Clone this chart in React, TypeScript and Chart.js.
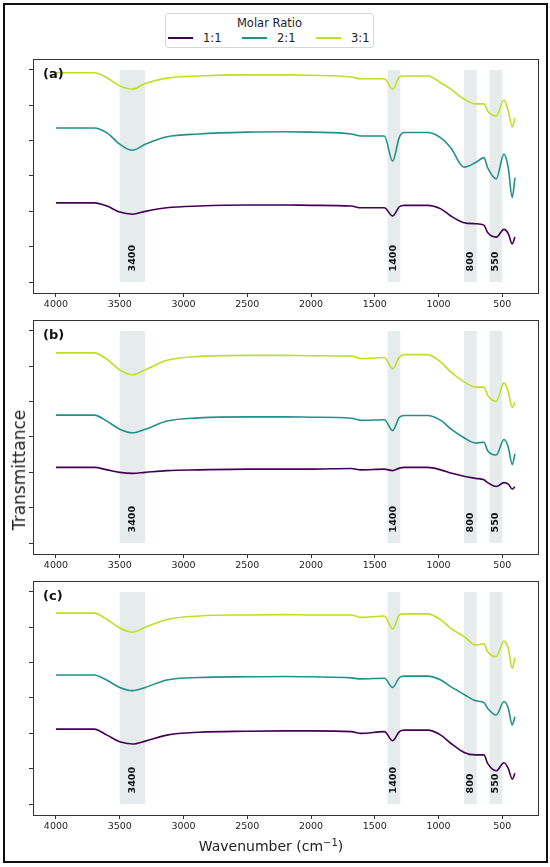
import React, { useEffect, useRef } from 'react';
import { Chart, registerables } from 'chart.js';

Chart.register(...registerables);

// wavenumbers (cm-1) shared by every spectrum
const WAVENUMBERS = [
  4000, 3700, 3600, 3500, 3400, 3300, 3130, 2880, 2500, 2200, 2000, 1685, 1607, 1425, 1360,
  1307, 1268, 1086, 982, 904, 800, 709, 644, 615, 547, 487, 453, 422, 401,
];

const SERIES_NAMES = ['1:1', '2:1', '3:1'];
const SERIES_COLORS = ['#440154', '#21918c', '#bddf26'];
const PANEL_LETTERS = ['(a)', '(b)', '(c)'];

// panel (a)
const A_1_1 = [2.24, 2.24, 2.15, 1.98, 1.92, 2.0, 2.1, 2.15, 2.18, 2.18, 2.17, 2.15, 2.1, 2.1, 1.87, 2.13, 2.17, 2.17, 2.07, 1.87, 1.68, 1.65, 1.61, 1.4, 1.27, 1.49, 1.37, 1.08, 1.27];
const A_2_1 = [4.36, 4.36, 4.22, 3.9, 3.73, 3.9, 4.11, 4.19, 4.24, 4.25, 4.24, 4.19, 4.13, 4.13, 3.42, 4.1, 4.23, 4.23, 4.08, 3.8, 3.25, 3.38, 3.52, 3.24, 2.92, 3.62, 3.23, 2.39, 2.95];
const A_3_1 = [5.92, 5.92, 5.78, 5.55, 5.46, 5.62, 5.77, 5.83, 5.86, 5.86, 5.85, 5.8, 5.75, 5.75, 5.46, 5.8, 5.83, 5.83, 5.64, 5.46, 5.18, 5.04, 5.04, 4.84, 4.7, 5.15, 4.84, 4.39, 4.64];

// panel (b)
const B_1_1 = [2.14, 2.14, 2.07, 2.0, 1.97, 2.0, 2.05, 2.07, 2.09, 2.09, 2.09, 2.11, 2.07, 2.09, 2.05, 2.12, 2.14, 2.14, 2.07, 1.98, 1.89, 1.83, 1.79, 1.71, 1.6, 1.71, 1.67, 1.53, 1.59];
const B_2_1 = [3.62, 3.62, 3.45, 3.22, 3.12, 3.22, 3.45, 3.54, 3.57, 3.57, 3.56, 3.53, 3.47, 3.49, 3.18, 3.56, 3.61, 3.61, 3.47, 3.23, 2.98, 2.83, 2.85, 2.61, 2.49, 2.93, 2.71, 2.22, 2.52];
const B_3_1 = [5.38, 5.38, 5.2, 4.9, 4.76, 4.9, 5.17, 5.28, 5.31, 5.31, 5.3, 5.29, 5.22, 5.25, 4.93, 5.26, 5.33, 5.33, 5.12, 4.84, 4.56, 4.41, 4.41, 4.18, 4.01, 4.53, 4.27, 3.84, 3.99];

// panel (c)
const C_1_1 = [2.12, 2.12, 1.95, 1.76, 1.7, 1.78, 1.95, 2.03, 2.06, 2.07, 2.07, 2.05, 2.0, 2.05, 1.79, 2.05, 2.09, 2.09, 1.95, 1.72, 1.46, 1.39, 1.39, 1.15, 0.94, 1.17, 1.01, 0.7, 0.87];
const C_2_1 = [3.65, 3.65, 3.5, 3.3, 3.21, 3.3, 3.51, 3.58, 3.6, 3.61, 3.6, 3.57, 3.54, 3.56, 3.3, 3.58, 3.62, 3.62, 3.51, 3.32, 3.1, 2.92, 2.87, 2.71, 2.52, 2.9, 2.71, 2.24, 2.47];
const C_3_1 = [5.4, 5.4, 5.22, 4.98, 4.86, 5.0, 5.22, 5.32, 5.35, 5.36, 5.35, 5.35, 5.28, 5.32, 4.95, 5.35, 5.38, 5.38, 5.21, 4.97, 4.74, 4.5, 4.53, 4.31, 4.17, 4.61, 4.4, 3.84, 4.15];

const PANELS = [
  [A_1_1, A_2_1, A_3_1],
  [B_1_1, B_2_1, B_3_1],
  [C_1_1, C_2_1, C_3_1],
];

const X_TICKS = [4000, 3500, 3000, 2500, 2000, 1500, 1000, 500];
const Y_TICKS = [0, 1, 2, 3, 4, 5, 6];

// shaded absorption bands
const BAND_FROM = [3500, 1400, 800, 600];
const BAND_TO = [3300, 1300, 700, 500];
const BAND_LABELS = ['3400', '1400', '800', '550'];

const FONT = '"DejaVu Sans", Verdana, sans-serif';
const PANEL_TOPS = [59, 320, 581];
const AREA_H = 234;
const PAD_TOP = 10;
const AXIS_H = 26;
const AREA_LEFT = 33;
const AREA_RIGHT = 538;
const LABEL_Y = 0.3;

function decor(letter: string) {
  return {
    id: 'decor',
    beforeDatasetsDraw(chart: any) {
      const { ctx, scales } = chart;
      const x = scales.x;
      const y = scales.y;
      const yTop = y.getPixelForValue(Y_TICKS[Y_TICKS.length - 1]);
      const yBot = y.getPixelForValue(Y_TICKS[0]);
      ctx.save();
      ctx.fillStyle = '#e6ecec';
      BAND_FROM.forEach((from, i) => {
        const x1 = x.getPixelForValue(from);
        const x2 = x.getPixelForValue(BAND_TO[i]);
        ctx.fillRect(Math.min(x1, x2), yTop, Math.abs(x2 - x1), yBot - yTop);
      });
      ctx.fillStyle = '#111';
      ctx.font = `bold 9.5px ${FONT}`;
      ctx.textAlign = 'left';
      ctx.textBaseline = 'middle';
      BAND_FROM.forEach((from, i) => {
        const cx = x.getPixelForValue((from + BAND_TO[i]) / 2);
        const cy = y.getPixelForValue(LABEL_Y);
        ctx.save();
        ctx.translate(cx, cy);
        ctx.rotate(-Math.PI / 2);
        ctx.fillText(BAND_LABELS[i], 0, 0);
        ctx.restore();
      });
      ctx.restore();
    },
    afterDraw(chart: any) {
      const { ctx, chartArea } = chart;
      ctx.save();
      ctx.strokeStyle = '#333';
      ctx.lineWidth = 1;
      ctx.strokeRect(
        Math.round(chartArea.left) + 0.5,
        Math.round(chartArea.top) + 0.5,
        Math.round(chartArea.right - chartArea.left),
        Math.round(chartArea.bottom - chartArea.top),
      );
      ctx.fillStyle = '#111';
      ctx.font = `bold 13px ${FONT}`;
      ctx.textAlign = 'left';
      ctx.textBaseline = 'middle';
      ctx.fillText(letter, chartArea.left + 10, chartArea.top + 16);
      ctx.restore();
    },
  };
}

function Panel({ index }: { index: number }) {
  const canvasRef = useRef<HTMLCanvasElement>(null);

  useEffect(() => {
    const ctx = canvasRef.current?.getContext('2d');
    if (!ctx) return;

    const chart = new Chart(ctx, {
      type: 'line',
      data: {
        datasets: PANELS[index].map((values, s) => ({
          label: SERIES_NAMES[s],
          data: WAVENUMBERS.map((w, i) => ({ x: w, y: values[i] })),
          borderColor: SERIES_COLORS[s],
          borderWidth: 1.6,
          pointRadius: 0,
          fill: false,
          cubicInterpolationMode: 'monotone' as const,
        })),
      },
      options: {
        animation: false,
        responsive: false,
        events: [],
        layout: { padding: { top: PAD_TOP, right: 550 - AREA_RIGHT, left: 0, bottom: 0 } },
        plugins: { legend: { display: false }, tooltip: { enabled: false } },
        scales: {
          x: {
            type: 'linear',
            reverse: true,
            min: 220,
            max: 4180,
            afterBuildTicks: (s: any) => {
              s.ticks = X_TICKS.map((v) => ({ value: v }));
            },
            afterFit: (s: any) => {
              s.height = AXIS_H;
            },
            ticks: {
              font: { family: FONT, size: 9.5 },
              color: '#222',
              padding: 2,
              maxRotation: 0,
              autoSkip: false,
              callback: (v: any) => String(v),
            },
            grid: { drawOnChartArea: false, drawTicks: true, tickLength: 4, color: '#333' },
            border: { display: false },
          },
          y: {
            type: 'linear',
            min: -0.31,
            max: 6.31,
            afterBuildTicks: (s: any) => {
              s.ticks = Y_TICKS.map((v) => ({ value: v }));
            },
            afterFit: (s: any) => {
              s.width = AREA_LEFT;
            },
            ticks: { display: false },
            grid: { drawOnChartArea: false, drawTicks: true, tickLength: 4, color: '#333' },
            border: { display: false },
          },
        },
      },
      plugins: [decor(PANEL_LETTERS[index])],
    });

    return () => chart.destroy();
  }, [index]);

  return (
    <canvas
      ref={canvasRef}
      width={550}
      height={PAD_TOP + AREA_H + AXIS_H}
      style={{
        position: 'absolute',
        left: 0,
        top: PANEL_TOPS[index] - PAD_TOP,
        width: 550,
        height: PAD_TOP + AREA_H + AXIS_H,
      }}
    />
  );
}

export default function App() {
  return (
    <div
      style={{
        position: 'absolute',
        left: 0,
        top: 0,
        width: 550,
        height: 867,
        background: '#fff',
        fontFamily: FONT,
        color: '#222',
        overflow: 'hidden',
      }}
    >
      <div
        style={{
          position: 'absolute',
          left: 3,
          top: 3,
          width: 541,
          height: 856,
          border: '2px solid #111',
        }}
      />
      <div
        style={{
          position: 'absolute',
          left: 165,
          top: 13,
          width: 207,
          height: 33,
          border: '1px solid #d8d8d8',
          borderRadius: 3,
          fontSize: 11.5,
        }}
      >
        <div style={{ position: 'absolute', top: 2, width: '100%', textAlign: 'center' }}>Molar Ratio</div>
        {SERIES_NAMES.map((name, i) => (
          <div
            key={name}
            style={{ position: 'absolute', top: 17, left: 2 + i * 74, display: 'flex', alignItems: 'center' }}
          >
            <span
              style={{ display: 'inline-block', width: 25, height: 2, background: SERIES_COLORS[i] }}
            />
            <span style={{ marginLeft: 10 }}>{name}</span>
          </div>
        ))}
      </div>
      {PANELS.map((_, i) => (
        <Panel key={i} index={i} />
      ))}
      <div
        style={{
          position: 'absolute',
          left: 19,
          top: 470,
          transform: 'translate(-50%, -50%) rotate(-90deg)',
          fontSize: 17,
          whiteSpace: 'nowrap',
        }}
      >
        Transmittance
      </div>
      <div
        style={{
          position: 'absolute',
          left: 271,
          top: 845,
          transform: 'translate(-50%, -50%)',
          fontSize: 14,
          whiteSpace: 'nowrap',
        }}
      >
        Wavenumber (cm<sup style={{ fontSize: 10, verticalAlign: 5 }}>−1</sup>)
      </div>
    </div>
  );
}
